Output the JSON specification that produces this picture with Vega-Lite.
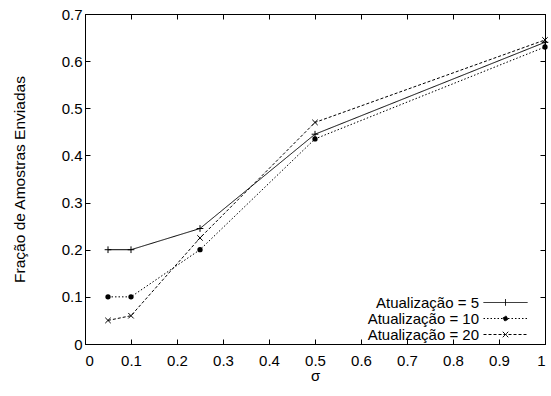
{
  "$schema": "https://vega.github.io/schema/vega-lite/v6.json",
  "width": 460,
  "height": 330,
  "autosize": {"type": "none"},
  "padding": {"left": 85, "top": 14, "right": 6, "bottom": 52},
  "background": "white",
  "config": {
    "view": {"stroke": "black", "strokeWidth": 1},
    "font": "Liberation Sans",
    "axis": {
      "grid": false,
      "domainColor": "black",
      "tickColor": "black",
      "tickSize": -5,
      "labelFont": "Liberation Sans",
      "labelFontSize": 15,
      "labelColor": "black",
      "titleFont": "Liberation Sans",
      "titleFontSize": 15.5,
      "titleFontWeight": "normal",
      "titleColor": "black"
    }
  },
  "data": {
    "values": [
      {"s": "Atualização = 5", "x": 0.05, "y": 0.2},
      {"s": "Atualização = 5", "x": 0.1, "y": 0.2},
      {"s": "Atualização = 5", "x": 0.25, "y": 0.245},
      {"s": "Atualização = 5", "x": 0.5, "y": 0.445},
      {"s": "Atualização = 5", "x": 1.0, "y": 0.64},
      {"s": "Atualização = 10", "x": 0.05, "y": 0.1},
      {"s": "Atualização = 10", "x": 0.1, "y": 0.1},
      {"s": "Atualização = 10", "x": 0.25, "y": 0.2},
      {"s": "Atualização = 10", "x": 0.5, "y": 0.435},
      {"s": "Atualização = 10", "x": 1.0, "y": 0.63},
      {"s": "Atualização = 20", "x": 0.05, "y": 0.05},
      {"s": "Atualização = 20", "x": 0.1, "y": 0.06},
      {"s": "Atualização = 20", "x": 0.25, "y": 0.225},
      {"s": "Atualização = 20", "x": 0.5, "y": 0.47},
      {"s": "Atualização = 20", "x": 1.0, "y": 0.645}
    ]
  },
  "layer": [
    {
      "mark": {"type": "line", "strokeWidth": 1},
      "encoding": {
        "x": {"field": "x", "type": "quantitative", "scale": {"domain": [0, 1], "nice": false},
              "axis": {"orient": "bottom", "values": [0,0.1,0.2,0.3,0.4,0.5,0.6,0.7,0.8,0.9,1], "format": "~g", "labelPadding": 14, "title": "σ", "titlePadding": 0, "titleFontSize": 15}},
        "y": {"field": "y", "type": "quantitative", "scale": {"domain": [0, 0.7], "nice": false},
              "axis": {"orient": "left", "values": [0,0.1,0.2,0.3,0.4,0.5,0.6,0.7], "format": "~g", "labelPadding": 8, "title": "Fração de Amostras Enviadas", "titlePadding": 34}},
        "color": {"field": "s", "type": "nominal",
                  "scale": {"domain": ["Atualização = 5", "Atualização = 10", "Atualização = 20"], "range": ["black", "black", "black"]},
                  "legend": {
                    "title": null,
                    "orient": "none",
                    "legendX": 413,
                    "legendY": 281,
                    "padding": 0,
                    "labelFont": "Liberation Sans",
                    "labelFontSize": 15,
                    "labelColor": "black",
                    "labelAlign": "right",
                    "labelOffset": -34,
                    "labelLimit": 300,
                    "symbolSize": 121,
                    "symbolStrokeWidth": 1,
                    "symbolStrokeColor": "black",
                    "rowPadding": 0,
                    "encode": {
                      "symbols": {
                        "update": {
                          "shape": {"signal": "datum.value === 'Atualização = 5' ? 'M-4,0H4M0,-0.6V0.6' : datum.value === 'Atualização = 10' ? 'M-4,0H4M0.42,0A0.42,0.42 0 1,1 -0.42,0A0.42,0.42 0 1,1 0.42,0' : 'M-4,0H4M-0.5,-0.5L0.5,0.5M-0.5,0.5L0.5,-0.5'"},
                          "fill": {"signal": "datum.value === 'Atualização = 10' ? 'black' : 'transparent'"},
                          "stroke": {"value": "black"},
                          "strokeDash": {"signal": "datum.value === 'Atualização = 5' ? [1,0] : datum.value === 'Atualização = 10' ? [1.5,2] : [3,2]"}
                        }
                      }
                    }
                  }},
        "strokeDash": {"field": "s", "type": "nominal",
                       "scale": {"domain": ["Atualização = 5", "Atualização = 10", "Atualização = 20"], "range": [[1, 0], [1.5, 2], [3, 2]]},
                       "legend": null}
      }
    },
    {
      "transform": [{"filter": "datum.s === 'Atualização = 5'"}],
      "mark": {"type": "point", "shape": "M-1,0H1M0,-1V1", "strokeWidth": 1, "size": 45, "opacity": 1, "filled": false, "color": "black"},
      "encoding": {
        "x": {"field": "x", "type": "quantitative", "scale": {"domain": [0, 1], "nice": false},
              "axis": {"orient": "top", "values": [0,0.1,0.2,0.3,0.4,0.5,0.6,0.7,0.8,0.9,1], "labels": false, "title": null}},
        "y": {"field": "y", "type": "quantitative", "scale": {"domain": [0, 0.7], "nice": false},
              "axis": {"orient": "right", "values": [0,0.1,0.2,0.3,0.4,0.5,0.6,0.7], "labels": false, "title": null}}
      }
    },
    {
      "transform": [{"filter": "datum.s === 'Atualização = 10'"}],
      "mark": {"type": "point", "shape": "circle", "size": 28, "opacity": 1, "filled": true, "color": "black"},
      "encoding": {
        "x": {"field": "x", "type": "quantitative", "axis": null},
        "y": {"field": "y", "type": "quantitative", "axis": null}
      }
    },
    {
      "transform": [{"filter": "datum.s === 'Atualização = 20'"}],
      "mark": {"type": "point", "shape": "M-1,-1L1,1M-1,1L1,-1", "strokeWidth": 1, "size": 30, "opacity": 1, "filled": false, "color": "black"},
      "encoding": {
        "x": {"field": "x", "type": "quantitative", "axis": null},
        "y": {"field": "y", "type": "quantitative", "axis": null}
      }
    }
  ],
  "resolve": {"axis": {"x": "independent", "y": "independent"}}
}
